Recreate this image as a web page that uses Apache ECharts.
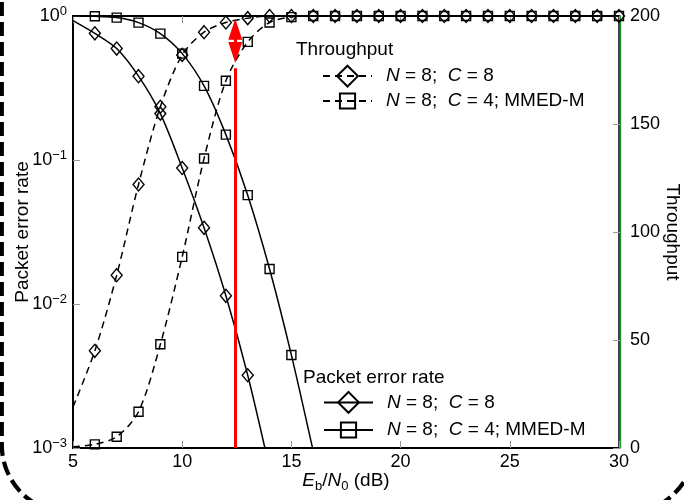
<!DOCTYPE html>
<html>
<head>
<meta charset="utf-8">
<script src="https://cdn.jsdelivr.net/npm/echarts@6/dist/echarts.min.js"></script>
<style>
html, body { margin: 0; padding: 0; background: #fff; }
#chart { width: 684px; height: 500px; }
</style>
</head>
<body>
<div id="chart"></div>
<script>
// Eb/N0 in dB, one point per integer
const ebn0 = [5, 6, 7, 8, 9, 10, 11, 12, 13, 14, 15, 16, 17, 18, 19, 20, 21, 22, 23, 24, 25, 26, 27, 28, 29, 30];

// throughput (right axis)
const thrC8 = [19, 45, 80, 122, 158, 182, 192.5, 197, 199, 200, 200, 200, 200, 200, 200, 200, 200, 200, 200, 200, 200, 200, 200, 200, 200, 200];
const thrC4 = [0.5, 1.7, 5.2, 16.8, 48, 88.5, 134, 170, 188, 197, 199.5, 200, 200, 200, 200, 200, 200, 200, 200, 200, 200, 200, 200, 200, 200, 200];

// packet error rate (left axis, log)
const perC8 = [0.93, 0.758, 0.594, 0.382, 0.21, 0.088, 0.0338, 0.0114, 0.0032, 0.00072];
const perC4 = [1.0, 0.995, 0.975, 0.9, 0.755, 0.548, 0.327, 0.15, 0.057, 0.0175, 0.00442, 0.00095];

// red marker: x position, top of the line, arrow ends (throughput units)
const gapX = 12.43;
const gapLine = [0, 175.8];
const gapArrow = [183.1, 193.9];

const legendText = {
  thrC8: "{i|N} = 8;  {i|C} = 8",
  thrC4: "{i|N} = 8;  {i|C} = 4; MMED-M",
  perC8: "{i|N} = 8;  {i|C} = 8",
  perC4: "{i|N} = 8;  {i|C} = 4; MMED-M"
};

const FONT = "Liberation Sans, Arial, Helvetica, sans-serif";

function toData(vals, perAxis) {
  return vals.map((v, i) => {
    if (i === 0 || (perAxis && v < 0.001)) {
      return { value: [ebn0[i], v], symbol: "none" };
    }
    return [ebn0[i], v];
  });
}

function curve(name, vals, symbol, size, dashed, yIdx) {
  return {
    name: name,
    type: "line",
    yAxisIndex: yIdx,
    data: toData(vals, yIdx === 0),
    smooth: 0.3,
    symbol: symbol,
    symbolSize: size,
    showAllSymbol: true,
    clip: true,
    lineStyle: { color: "#000", width: 1.5, type: dashed ? [7, 5] : "solid" },
    itemStyle: { color: "rgba(0,0,0,0)", borderColor: "#000", borderWidth: 1.4 },
    emphasis: { disabled: true }
  };
}

const textRich = {
  i: { fontStyle: "italic", fontSize: 19, fontFamily: FONT, color: "#000" }
};

function legendAt(name, left, centerY, h) {
  return {
    data: [name],
    left: left,
    top: centerY - h / 2,
    padding: 0,
    itemWidth: 49,
    itemHeight: h,
    selectedMode: false,
    formatter: n => legendText[n],
    textStyle: {
      fontSize: 19,
      fontFamily: FONT,
      color: "#000",
      padding: [0, 0, 0, 9],
      rich: textRich
    }
  };
}

const tickStyle = { inside: true, length: 7, lineStyle: { color: "#999", width: 1 } };
const labelStyle = { fontSize: 18, fontFamily: FONT, color: "#000" };

const myChart = echarts.init(document.getElementById("chart"));

const option = {
  animation: false,
  backgroundColor: "#fff",
  grid: {
    left: 73, right: 65, top: 16, bottom: 52,
    containLabel: false, outerBoundsMode: "none",
    show: true, borderColor: "#000", borderWidth: 1.5
  },
  title: [
    { text: "Throughput", left: 296, top: 39, padding: 0,
      textStyle: { fontSize: 19, fontWeight: "normal", fontFamily: FONT, color: "#000", lineHeight: 22 } },
    { text: "Packet error rate", left: 303, top: 367, padding: 0,
      textStyle: { fontSize: 19, fontWeight: "normal", fontFamily: FONT, color: "#000", lineHeight: 22 } }
  ],
  legend: [
    legendAt("thrC8", 322, 77.7, 26),
    legendAt("thrC4", 322, 101, 19),
    legendAt("perC8", 323, 404, 26),
    legendAt("perC4", 323, 430, 19)
  ],
  graphic: [
    {
      type: "rect",
      z: -10,
      silent: true,
      shape: { x: 1.8, y: -100, width: 693, height: 613, r: 68 },
      style: { fill: "none", stroke: "#000", lineWidth: 4.2, lineDash: [14, 6] }
    }
  ],
  xAxis: [
    {
      type: "value", min: 5, max: 30, interval: 5, position: "bottom",
      axisLine: { lineStyle: { color: "#000", width: 2 } },
      axisTick: tickStyle,
      splitLine: { show: false },
      axisLabel: Object.assign({ margin: 5 }, labelStyle),
      name: "{i|E}{s|b}/{i|N}{s|0} (dB)",
      nameLocation: "middle",
      nameGap: 21,
      nameMoveOverlap: false,
      nameTextStyle: {
        fontSize: 19, fontFamily: FONT, color: "#000", lineHeight: 24,
        rich: {
          i: { fontStyle: "italic", fontSize: 19, fontFamily: FONT, color: "#000", lineHeight: 24 },
          s: { fontSize: 13, fontFamily: FONT, color: "#000", lineHeight: 13, verticalAlign: "bottom" }
        }
      }
    },
    {
      type: "value", min: 5, max: 30, interval: 5, position: "top",
      axisLine: { lineStyle: { color: "#000", width: 2 } },
      axisTick: tickStyle,
      splitLine: { show: false },
      axisLabel: { show: false }
    }
  ],
  yAxis: [
    {
      type: "log", logBase: 10, min: 0.001, max: 1, position: "left",
      axisLine: { show: true, lineStyle: { color: "#000", width: 2 } },
      axisTick: tickStyle,
      minorTick: { show: false },
      splitLine: { show: false },
      axisLabel: {
        margin: 6,
        formatter: v => {
          const e = Math.round(Math.log10(v));
          return "{b|10}{sup|" + (e < 0 ? "\u2212" + (-e) : e) + "}";
        },
        rich: {
          b: { fontSize: 18, fontFamily: FONT, color: "#000", lineHeight: 22 },
          sup: { fontSize: 13, fontFamily: FONT, color: "#000", lineHeight: 13, verticalAlign: "top" }
        }
      },
      name: "Packet error rate",
      nameLocation: "middle",
      nameGap: 41,
      nameRotate: 90,
      nameMoveOverlap: false,
      nameTextStyle: { fontSize: 19, fontFamily: FONT, color: "#000" }
    },
    {
      type: "value", min: 0, max: 200, interval: 50, position: "right", offset: 1,
      axisLine: { show: true, lineStyle: { color: "#1f9a2a", width: 1.3 } },
      axisTick: tickStyle,
      splitLine: { show: false },
      axisLabel: Object.assign({ margin: 10 }, labelStyle),
      name: "Throughput",
      nameLocation: "middle",
      nameGap: 43,
      nameRotate: -90,
      nameMoveOverlap: false,
      nameTextStyle: { fontSize: 19, fontFamily: FONT, color: "#000" }
    }
  ],
  series: [
    curve("perC8", perC8, "diamond", [11, 13], false, 0),
    curve("perC4", perC4, "rect", 9, false, 0),
    curve("thrC8", thrC8, "diamond", [11, 13], true, 1),
    Object.assign(curve("thrC4", thrC4, "rect", 9, true, 1), {
      markLine: {
        silent: true,
        animation: false,
        label: { show: false },
        emphasis: { disabled: true },
        data: [
          [
            { coord: [gapX, gapLine[0]], symbol: "none", lineStyle: { color: "#f00", width: 3, type: "solid" } },
            { coord: [gapX, gapLine[1]], symbol: "none" }
          ],
          [
            { coord: [gapX, gapArrow[0]], symbol: "triangle", symbolSize: [14, 21],
              lineStyle: { color: "#f00", width: 3, type: "solid" }, itemStyle: { color: "#f00" } },
            { coord: [gapX, gapArrow[1]], symbol: "triangle", symbolSize: [14, 21] }
          ]
        ]
      }
    })
  ]
};

myChart.setOption(option);
</script>
</body>
</html>
